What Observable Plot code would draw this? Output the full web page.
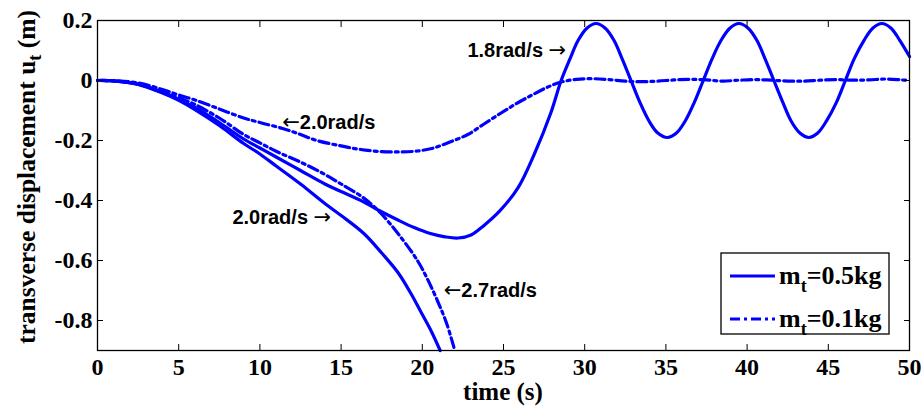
<!DOCTYPE html>
<html><head><meta charset="utf-8">
<script src="https://cdn.jsdelivr.net/npm/d3@7"></script>
<script src="https://cdn.jsdelivr.net/npm/@observablehq/plot@0.6"></script>
<style>
body{margin:0;background:#fff;}
#chart{width:922px;height:409px;}
</style></head><body><div id="chart"></div>
<script>
// Axis ticks
const xTicks = [0, 5, 10, 15, 20, 25, 30, 35, 40, 45, 50];
const yTicks = [0.2, 0, -0.2, -0.4, -0.6, -0.8];
const yTickLabels = ["0.2", "0", "-0.2", "-0.4", "-0.6", "-0.8"];

// Series 1: m_t = 0.5 kg, 1.8 rad/s (solid)
const t1 = [0,1,2.5,4,5,6,7.5,9,10,11,12.5,14,15,16.4,17.4,18.5,19.5,20.5,21.4,22.2,23.0,23.8,24.8,25.9,26.9,27.9,28.55,29.1,29.6,30.15,30.7,31.25,31.8,32.3,32.85,33.4,33.95,34.5,35.1,35.65,36.2,36.75,37.3,37.85,38.4,38.95,39.5,40.05,40.6,41.1,41.65,42.2,42.7,43.25,43.8,44.35,44.9,45.5,46.05,46.6,47.2,47.75,48.3,48.85,49.4,50];
const u1 = [0,-0.001,-0.012,-0.04,-0.063,-0.09,-0.14,-0.195,-0.225,-0.255,-0.3,-0.345,-0.37,-0.405,-0.435,-0.465,-0.49,-0.51,-0.521,-0.525,-0.515,-0.483,-0.433,-0.357,-0.245,-0.11,0,0.073,0.134,0.175,0.19,0.175,0.134,0.073,0,-0.073,-0.134,-0.175,-0.19,-0.175,-0.134,-0.073,0,0.073,0.134,0.175,0.19,0.175,0.134,0.073,0,-0.073,-0.134,-0.175,-0.19,-0.175,-0.134,-0.073,0,0.073,0.134,0.175,0.19,0.175,0.134,0.08];

// Series 2: m_t = 0.1 kg, 2.0 rad/s (dash-dot)
const t2 = [0,1,2.5,4,5,6,7.5,9,10,11.4,12.5,13.5,15,16.2,17.5,18.7,19.7,20.7,21.7,22.8,23.8,24.8,25.7,26.7,27.6,28.5,29.5,30.5,31.5,32.5,33.5,34.5,35.5,36.5,37.5,38.5,39.5,40.5,41.5,42.5,43.5,44.5,45.5,46.5,47.5,48.5,49.5,50];
const u2 = [0,-0.001,-0.008,-0.03,-0.048,-0.065,-0.095,-0.125,-0.14,-0.16,-0.18,-0.2,-0.218,-0.23,-0.237,-0.238,-0.235,-0.225,-0.205,-0.18,-0.145,-0.11,-0.08,-0.05,-0.025,-0.006,0.004,0.006,0.003,-0.002,-0.004,-0.002,0.002,0.004,0.002,-0.002,0.001,0.003,0.001,-0.002,-0.002,0.001,0.003,0.001,0.002,0.005,0.002,0];

// Series 3: m_t = 0.5 kg, 2.0 rad/s (solid)
const t3 = [0,1,2.5,4,5,6,7.5,9,10,11,12.5,14,15,16.4,17.5,18.5,19.3,19.9,20.5,21.1];
const u3 = [0,-0.001,-0.013,-0.042,-0.066,-0.097,-0.15,-0.21,-0.245,-0.285,-0.345,-0.41,-0.45,-0.51,-0.575,-0.64,-0.71,-0.77,-0.83,-0.9];

// Series 4: m_t = 0.1 kg, 2.7 rad/s (dash-dot)
const t4 = [0,1,2.5,4,5,6,7.5,9,10,11,12.5,14,15,16.4,17.4,18.5,19.7,20.3,20.9,21.5,22.0];
const u4 = [0,-0.001,-0.01,-0.035,-0.057,-0.08,-0.125,-0.18,-0.208,-0.236,-0.272,-0.313,-0.345,-0.392,-0.44,-0.51,-0.6,-0.66,-0.73,-0.81,-0.9];

// Annotations
const annText = ["1.8rad/s \u2192", "\u21902.0rad/s", "2.0rad/s \u2192", "\u21902.7rad/s"];
const annT = [28.86, 11.37, 14.39, 21.32];
const annU = [0.099, -0.139, -0.456, -0.70];
const annSide = ["end", "start", "end", "start"];

// Legend
const legendNames = ["m", "m"];
const legendSubs = ["t", "t"];
const legendRest = ["=0.5kg", "=0.1kg"];
const legendDash = [null, "dashdot"];

const zip = (t, u) => t.map((v, i) => ({t: v, u: u[i]}));
const s1 = zip(t1, u1), s2 = zip(t2, u2), s3 = zip(t3, u3), s4 = zip(t4, u4);
const ann = annText.map((s, i) => ({s, t: annT[i], u: annU[i], a: annSide[i]}));

const BLUE = "#0000ff";
const DASH = "10,4,3,4";
const lineOpts = {x: "t", y: "u", stroke: BLUE, strokeWidth: 3.2, curve: "catmull-rom"};
const annFont = {fontFamily: "'Liberation Sans', Arial, sans-serif", fontWeight: "bold", fontSize: 20, fill: "black"};

const chart = Plot.plot({
  width: 922, height: 409,
  marginLeft: 97, marginRight: 13, marginTop: 20, marginBottom: 59,
  style: {fontFamily: "'Liberation Serif', 'Times New Roman', serif", fontSize: "24px", fontWeight: "bold", background: "white", color: "black", overflow: "visible"},
  x: {domain: [0, 50], label: null},
  y: {domain: [-0.9, 0.2], label: null},
  marks: [
    Plot.line(s1, lineOpts),
    Plot.line(s3, lineOpts),
    Plot.line(s2, {...lineOpts, strokeDasharray: DASH}),
    Plot.line(s4, {...lineOpts, strokeDasharray: DASH}),
    Plot.axisX({ticks: xTicks, tickSize: 0, tickPadding: 7, tickFormat: d => String(d), label: null}),
    Plot.axisY({ticks: yTicks, tickSize: 0, tickPadding: 5, tickFormat: d => yTickLabels[yTicks.indexOf(d)], label: null}),
    Plot.axisX({anchor: "bottom", ticks: xTicks, tickSize: -6, tickFormat: () => "", label: null}),
    Plot.axisX({anchor: "top", ticks: xTicks, tickSize: -6, tickFormat: () => "", label: null}),
    Plot.axisY({anchor: "left", ticks: yTicks, tickSize: -6, tickFormat: () => "", label: null}),
    Plot.axisY({anchor: "right", ticks: yTicks, tickSize: -6, tickFormat: () => "", label: null}),
    Plot.frame({stroke: "black", strokeWidth: 1.3}),
    Plot.text(ann.filter(d => d.a === "end"), {x: "t", y: "u", text: "s", textAnchor: "end", ...annFont}),
    Plot.text(ann.filter(d => d.a === "start"), {x: "t", y: "u", text: "s", textAnchor: "start", ...annFont})
  ]
});
document.getElementById("chart").appendChild(chart);

const root = d3.select(chart);

// Render the arrow glyphs of the annotations in a font with larger arrows
root.selectAll("text").each(function() {
  const el = d3.select(this);
  if (el.selectAll("tspan").size() > 0) return;
  const s = el.text();
  if (!/[\u2190\u2192]/.test(s)) return;
  el.text(null);
  s.split(/([\u2190\u2192])/).filter(p => p.length).forEach(p => {
    const ts = el.append("tspan").text(p);
    if (/[\u2190\u2192]/.test(p)) ts.attr("font-family", "'DejaVu Sans', sans-serif").attr("font-weight", "normal").attr("font-size", 21);
  });
});

// Axis titles
root.append("text")
  .attr("x", 503).attr("y", 400).attr("text-anchor", "middle")
  .attr("font-family", "'Liberation Serif', serif").attr("font-weight", "bold").attr("font-size", 25).attr("fill", "black")
  .text("time (s)");
const yl = root.append("text")
  .attr("transform", "translate(35,177) rotate(-90)").attr("text-anchor", "middle")
  .attr("font-family", "'Liberation Serif', serif").attr("font-weight", "bold").attr("font-size", 25.5).attr("fill", "black");
yl.append("tspan").text("transverse displacement u");
yl.append("tspan").attr("dy", 6).attr("font-size", 18).text("t");
yl.append("tspan").attr("dy", -6).text(" (m)");

// Legend
const lg = root.append("g");
lg.append("rect").attr("x", 721).attr("y", 253).attr("width", 168).attr("height", 81)
  .attr("fill", "white").attr("stroke", "black").attr("stroke-width", 1.3);
legendNames.forEach((nm, i) => {
  const yy = 276 + i * 43;
  lg.append("line").attr("x1", 730).attr("x2", 775).attr("y1", yy).attr("y2", yy)
    .attr("stroke", BLUE).attr("stroke-width", 3.2)
    .attr("stroke-dasharray", legendDash[i] ? DASH : null);
  const tx = lg.append("text").attr("x", 779).attr("y", yy + 8).attr("text-anchor", "start")
    .attr("font-family", "'Liberation Serif', serif").attr("font-weight", "bold").attr("font-size", 26).attr("fill", "black");
  tx.append("tspan").text(nm);
  tx.append("tspan").attr("dy", 8).attr("font-size", 18).text(legendSubs[i]);
  tx.append("tspan").attr("dy", -8).text(legendRest[i]);
});
</script></body></html>
